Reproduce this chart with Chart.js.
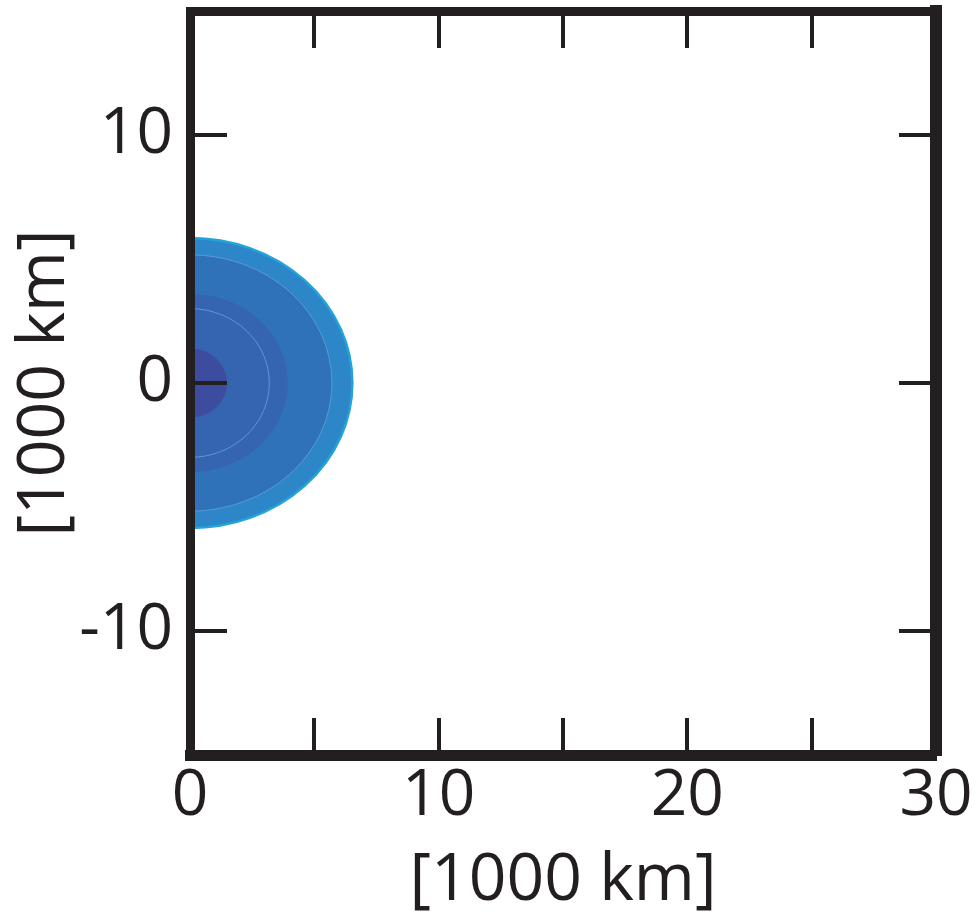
<!DOCTYPE html>
<html>
<head>
<meta charset="utf-8">
<script src="https://cdn.jsdelivr.net/npm/chart.js@4/dist/chart.umd.min.js"></script>
<style>
  html, body { margin: 0; padding: 0; background: #fff; }
</style>
</head>
<body>
<canvas id="contourChart" width="976" height="921"></canvas>
<script>
// Eixos (em 1000 km)
const xTickLabels = [0, 10, 20, 30];
const yTickLabels = [-10, 0, 10];
const xTickMarks = [5, 10, 15, 20, 25];
const yTickMarks = [-10, 0, 10];

// Contornos preenchidos: semi-eixos em x e y (1000 km), de fora para dentro
const fillRx = [6.53, 5.71, 3.93, 1.49];
const fillRy = [5.85, 5.17, 3.60, 1.40];
const fillColors = ['#2C86C8', '#2F72BA', '#3564B1', '#3E4CA0'];

// Linhas finas de contorno
const lineRx = [5.71, 3.19];
const lineRy = [5.17, 3.00];

const ink = '#231F20';
const font = "'Open Sans', sans-serif";

// desenha as meias-elipses usando as escalas do gráfico
const contourPlugin = {
    id: 'contours',
    beforeDatasetsDraw(chart) {
        const { ctx, chartArea, scales: { x, y } } = chart;
        const cx = x.getPixelForValue(0);
        const cy = y.getPixelForValue(0);
        ctx.save();
        ctx.beginPath();
        ctx.rect(chartArea.left, chartArea.top, chartArea.right - chartArea.left, chartArea.bottom - chartArea.top);
        ctx.clip();
        fillRx.forEach((rx, i) => {
            const px = x.getPixelForValue(rx) - cx;
            const py = cy - y.getPixelForValue(fillRy[i]);
            ctx.beginPath();
            ctx.ellipse(cx, cy, px, py, 0, 0, Math.PI * 2);
            ctx.fillStyle = fillColors[i];
            ctx.fill();
            if (i === 0) {
                ctx.lineWidth = 2.5;
                ctx.strokeStyle = '#22A4DA';
                ctx.stroke();
            }
        });
        lineRx.forEach((rx, i) => {
            const px = x.getPixelForValue(rx) - cx;
            const py = cy - y.getPixelForValue(lineRy[i]);
            ctx.beginPath();
            ctx.ellipse(cx, cy, px, py, 0, 0, Math.PI * 2);
            ctx.lineWidth = 1;
            ctx.strokeStyle = '#5A98D6';
            ctx.stroke();
        });
        ctx.restore();
    },
    // marcas de escala para dentro, nos quatro lados
    afterDraw(chart) {
        const { ctx, chartArea, scales: { x, y } } = chart;
        const len = 37;
        ctx.save();
        ctx.strokeStyle = ink;
        ctx.lineWidth = 4;
        ctx.beginPath();
        xTickMarks.forEach(v => {
            const px = Math.round(x.getPixelForValue(v));
            ctx.moveTo(px, chartArea.bottom);
            ctx.lineTo(px, chartArea.bottom - len);
            ctx.moveTo(px, chartArea.top);
            ctx.lineTo(px, chartArea.top + len);
        });
        yTickMarks.forEach(v => {
            const py = Math.round(y.getPixelForValue(v));
            ctx.moveTo(chartArea.left, py);
            ctx.lineTo(chartArea.left + len, py);
            ctx.moveTo(chartArea.right, py);
            ctx.lineTo(chartArea.right - len, py);
        });
        ctx.stroke();
        ctx.restore();
    }
};

const hiddenGrid = { display: true, drawOnChartArea: false, drawTicks: false };

// tamanho fixo de cada eixo, sem folga extra para os rótulos
const fixSize = (w, h) => s => {
    if (w !== null) s.width = w;
    if (h !== null) s.height = h;
    s.paddingTop = 0; s.paddingBottom = 0;
    s.paddingLeft = 0; s.paddingRight = 0;
};

const chart = new Chart(document.getElementById('contourChart').getContext('2d'), {
    type: 'scatter',
    data: { datasets: [] },
    options: {
        responsive: false,
        animation: false,
        layout: { padding: 0 },
        plugins: { legend: { display: false }, tooltip: { enabled: false } },
        scales: {
            x: {
                type: 'linear', position: 'bottom', min: 0, max: 30,
                afterBuildTicks: s => { s.ticks = xTickLabels.map(v => ({ value: v })); },
                afterFit: fixSize(null, 166),
                grid: hiddenGrid,
                border: { display: true, color: ink, width: 11, z: 1 },
                ticks: { color: ink, font: { family: font, size: 64 }, padding: 3, maxRotation: 0 },
                title: {
                    display: true, text: '[1000 km]', color: ink,
                    font: { family: font, size: 66, lineHeight: 1.1 }, padding: { top: 0, bottom: 3 }
                }
            },
            x2: {
                type: 'linear', position: 'top', min: 0, max: 30,
                afterFit: fixSize(null, 11),
                grid: hiddenGrid,
                border: { display: true, color: ink, width: 9, z: 1 },
                ticks: { display: false }
            },
            y: {
                type: 'linear', position: 'left', min: -15, max: 15,
                afterBuildTicks: s => { s.ticks = yTickLabels.map(v => ({ value: v })); },
                afterFit: fixSize(190, null),
                grid: hiddenGrid,
                border: { display: true, color: ink, width: 9, z: 1 },
                ticks: { color: ink, font: { family: font, size: 64 }, padding: 17 },
                title: {
                    display: true, text: '[1000 km]', color: ink,
                    font: { family: font, size: 66, lineHeight: 1.1 }, padding: { top: 9, bottom: 0 }
                }
            },
            y2: {
                type: 'linear', position: 'right', min: -15, max: 15,
                afterFit: fixSize(40, null),
                grid: hiddenGrid,
                border: { display: true, color: ink, width: 12, z: 1 },
                ticks: { display: false }
            }
        }
    },
    plugins: [contourPlugin]
});
</script>
</body>
</html>
